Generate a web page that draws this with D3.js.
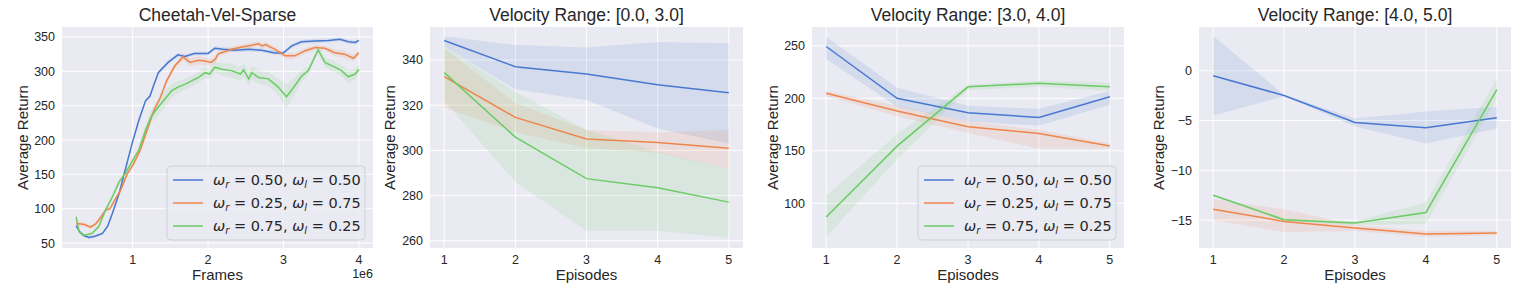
<!DOCTYPE html>
<html>
<head>
<meta charset="utf-8">
<script src="https://cdn.jsdelivr.net/npm/d3@7"></script>
<style>
  body { margin: 0; background: #fff; }
  text { font-family: "Liberation Sans", Arial, sans-serif; fill: #262626; }
  .legend text { font-family: "DejaVu Sans", sans-serif; }
</style>
</head>
<body>
<div id="chart"></div>
<script>
// series names and colours (seaborn muted)
const seriesNames = [["0.50", "0.50"], ["0.25", "0.75"], ["0.75", "0.25"]];
const colors = ["#4878d0", "#ee854a", "#6acc64"];

// panel 1: Cheetah-Vel-Sparse, [frames (1e6), mean, band half width]
const cheetahBlue = [
  [0.25, 75, 2], [0.3, 66, 2], [0.35, 61, 2], [0.42, 58, 2], [0.5, 60, 2], [0.6, 64, 2],
  [0.67, 75, 2], [0.73, 93, 2], [0.82, 122, 3], [0.9, 156, 3], [0.99, 194, 3], [1.08, 228, 3],
  [1.17, 257, 3], [1.23, 264, 3], [1.28, 280, 3], [1.34, 298, 3], [1.47, 313, 3], [1.6, 324, 3],
  [1.69, 321.5, 3], [1.82, 326, 3], [2.0, 326, 3], [2.09, 333.6, 3], [2.2, 332, 3], [2.36, 330.7, 3],
  [2.54, 332, 3], [2.71, 330.7, 3], [2.89, 326.8, 3], [3.0, 327, 3], [3.11, 337, 3], [3.24, 343, 3],
  [3.42, 344, 3], [3.6, 345, 3], [3.75, 346.6, 3], [3.86, 343, 3], [3.95, 342, 3], [4.0, 345, 3]
];
const cheetahOrange = [
  [0.25, 78, 3], [0.29, 78, 3], [0.36, 77, 3], [0.44, 73, 3], [0.51, 78, 3], [0.58, 88, 3],
  [0.64, 98, 3], [0.7, 100, 3], [0.76, 112, 3], [0.84, 127, 3], [0.93, 151, 3], [1.01, 165, 3],
  [1.1, 185, 3], [1.19, 214, 3], [1.28, 243, 4], [1.36, 260, 4], [1.45, 286, 4], [1.56, 308, 4],
  [1.67, 321, 5], [1.76, 313, 6], [1.87, 316, 6], [1.96, 315, 6], [2.04, 313, 5], [2.1, 318, 5],
  [2.13, 325, 4], [2.18, 327, 4], [2.31, 332, 4], [2.45, 335.5, 4], [2.58, 338, 4], [2.67, 340, 4],
  [2.72, 337, 4], [2.76, 339, 4], [2.89, 332, 4], [3.02, 322.5, 5], [3.15, 322.5, 5], [3.29, 330, 4],
  [3.42, 334.5, 4], [3.55, 333.6, 4], [3.68, 327, 5], [3.81, 325, 5], [3.93, 319, 5], [4.0, 327, 5]
];
const cheetahGreen = [
  [0.25, 88, 3], [0.29, 66, 3], [0.36, 61, 3], [0.46, 64, 3], [0.55, 74, 3], [0.64, 98, 4],
  [0.73, 117, 4], [0.82, 139, 4], [0.9, 151, 4], [0.99, 168, 5], [1.08, 185, 6], [1.17, 214, 8],
  [1.25, 235, 10], [1.34, 248, 12], [1.43, 260, 12], [1.52, 272, 10], [1.6, 277, 9], [1.69, 281, 8],
  [1.78, 286, 8], [1.87, 291, 8], [1.96, 298, 8], [2.02, 296, 8], [2.09, 306, 8], [2.18, 303, 9],
  [2.31, 301, 10], [2.43, 296, 10], [2.47, 302, 10], [2.54, 289, 10], [2.58, 298, 10], [2.67, 291, 10],
  [2.8, 289, 10], [2.93, 277, 12], [3.04, 263, 18], [3.15, 279, 12], [3.24, 293, 8], [3.33, 301, 6],
  [3.46, 331, 4], [3.55, 313, 7], [3.68, 306, 8], [3.77, 301, 8], [3.86, 292, 9], [3.95, 296, 8],
  [4.0, 303, 7]
];

// panels 2-4: episodes
const episodes = [1, 2, 3, 4, 5];

const range03Mean = [[348.6, 337, 333.8, 329, 325.5], [332.6, 314.6, 305, 303.5, 300.9], [334.4, 305.9, 287.5, 283.5, 277.1]];
const range03Lo = [[346, 327, 322.3, 309.7, 303], [319, 308, 301, 299, 292], [322, 286, 264.4, 264.4, 261.3]];
const range03Hi = [[350.5, 346.6, 345.5, 348, 347.4], [345, 321, 309, 308, 309], [346, 326, 309, 299.5, 292]];

const range34Mean = [[249.4, 200, 186.3, 181.8, 201.6], [204.8, 188, 173, 166.6, 154.5], [87, 154.5, 211, 214.3, 211]];
const range34Lo = [[237.6, 192, 178, 174, 194], [202, 183, 167, 152, 152], [68, 142, 208, 211, 207]];
const range34Hi = [[258.6, 210, 193, 190, 207], [207, 193, 178, 170, 157], [107, 166, 213, 217, 215]];

const range45Mean = [[-0.5, -2.48, -5.19, -5.72, -4.72], [-13.9, -15.13, -15.8, -16.4, -16.3], [-12.5, -14.96, -15.3, -14.23, -1.9]];
const range45Lo = [[-4.5, -2.55, -5.6, -7.3, -5.8], [-15, -16.2, -16.1, -16.7, -16.5], [-12.6, -15.1, -15.5, -15.4, -2.8]];
const range45Hi = [[3.5, -2.4, -4.8, -4.1, -3.6], [-12.9, -13.9, -15.5, -16.1, -16.1], [-12.4, -14.8, -15.1, -13.2, -0.8]];

const width = 1522, height = 287;
const svg = d3.select("#chart").append("svg")
  .attr("width", width).attr("height", height);

function toRows(pairs) {
  return pairs.map(d => ({ x: d[0], y: d[1], lo: d[1] - d[2], hi: d[1] + d[2] }));
}
function epRows(mean, lo, hi) {
  return episodes.map((e, i) => ({ x: e, y: mean[i], lo: lo[i], hi: hi[i] }));
}

const panels = [
  {
    title: "Cheetah-Vel-Sparse", xlabel: "Frames", left: 62, right: 373, ylabelX: 23,
    xDomain: [0.0625, 4.1875], yDomain: [42.8, 364.5],
    xTicks: [1, 2, 3, 4], yTicks: [50, 100, 150, 200, 250, 300, 350],
    series: [toRows(cheetahBlue), toRows(cheetahOrange), toRows(cheetahGreen)],
    legend: true, offset: "1e6"
  },
  {
    title: "Velocity Range: [0.0, 3.0]", xlabel: "Episodes", left: 430, right: 743, ylabelX: 390,
    xDomain: [0.8, 5.2], yDomain: [256.8, 354.6],
    xTicks: episodes, yTicks: [260, 280, 300, 320, 340],
    series: [0, 1, 2].map(i => epRows(range03Mean[i], range03Lo[i], range03Hi[i])),
    legend: false
  },
  {
    title: "Velocity Range: [3.0, 4.0]", xlabel: "Episodes", left: 812, right: 1124, ylabelX: 773,
    xDomain: [0.8, 5.2], yDomain: [57.4, 268],
    xTicks: episodes, yTicks: [100, 150, 200, 250],
    series: [0, 1, 2].map(i => epRows(range34Mean[i], range34Lo[i], range34Hi[i])),
    legend: true
  },
  {
    title: "Velocity Range: [4.0, 5.0]", xlabel: "Episodes", left: 1199, right: 1511, ylabelX: 1159,
    xDomain: [0.8, 5.2], yDomain: [-17.8, 4.4],
    xTicks: episodes, yTicks: [-15, -10, -5, 0],
    series: [0, 1, 2].map(i => epRows(range45Mean[i], range45Lo[i], range45Hi[i])),
    legend: false
  }
];

const plotTop = 27, plotBottom = 248;

panels.forEach(p => {
  const x = d3.scaleLinear().domain(p.xDomain).range([p.left, p.right]);
  const y = d3.scaleLinear().domain(p.yDomain).range([plotBottom, plotTop]);
  const g = svg.append("g");

  g.append("rect")
    .attr("x", p.left).attr("y", plotTop)
    .attr("width", p.right - p.left).attr("height", plotBottom - plotTop)
    .attr("fill", "#eaeaf2");

  // grid
  g.selectAll(".vgrid").data(p.xTicks).enter().append("line")
    .attr("x1", d => x(d)).attr("x2", d => x(d))
    .attr("y1", plotTop).attr("y2", plotBottom)
    .attr("stroke", "#fff").attr("stroke-width", 1);
  g.selectAll(".hgrid").data(p.yTicks).enter().append("line")
    .attr("x1", p.left).attr("x2", p.right)
    .attr("y1", d => y(d)).attr("y2", d => y(d))
    .attr("stroke", "#fff").attr("stroke-width", 1);

  // tick labels
  g.selectAll(".xt").data(p.xTicks).enter().append("text")
    .attr("x", d => x(d)).attr("y", plotBottom + 16)
    .attr("text-anchor", "middle").attr("font-size", 12.5)
    .text(d => d);
  g.selectAll(".yt").data(p.yTicks).enter().append("text")
    .attr("x", p.left - 7).attr("y", d => y(d) + 4.5)
    .attr("text-anchor", "end").attr("font-size", 12.5)
    .text(d => d < 0 ? "\u2212" + Math.abs(d) : d);

  // bands then lines
  const area = d3.area().x(d => x(d.x)).y0(d => y(d.lo)).y1(d => y(d.hi));
  const line = d3.line().x(d => x(d.x)).y(d => y(d.y));
  p.series.forEach((s, i) => {
    g.append("path").datum(s).attr("d", area)
      .attr("fill", colors[i]).attr("fill-opacity", 0.13);
  });
  p.series.forEach((s, i) => {
    g.append("path").datum(s).attr("d", line)
      .attr("fill", "none").attr("stroke", colors[i]).attr("stroke-width", 1.5);
  });

  // titles and labels
  g.append("text").attr("x", (p.left + p.right) / 2).attr("y", 21)
    .attr("text-anchor", "middle").attr("font-size", 17.5).text(p.title);
  g.append("text").attr("x", (p.left + p.right) / 2).attr("y", 280)
    .attr("text-anchor", "middle").attr("font-size", 15).text(p.xlabel);
  g.append("text")
    .attr("transform", `translate(${p.ylabelX},${(plotTop + plotBottom) / 2}) rotate(-90)`)
    .attr("text-anchor", "middle").attr("dy", "0.35em")
    .attr("font-size", 15).text("Average Return");
  if (p.offset) {
    g.append("text").attr("x", p.right).attr("y", 278)
      .attr("text-anchor", "end").attr("font-size", 12.5).text(p.offset);
  }

  if (p.legend) {
    const lx = p.right - 206, ly = 166;
    const lg = g.append("g").attr("class", "legend");
    lg.append("rect").attr("x", lx).attr("y", ly).attr("width", 198).attr("height", 74)
      .attr("rx", 4).attr("fill", "#eaeaf2").attr("fill-opacity", 0.8)
      .attr("stroke", "#d0d0d8").attr("stroke-width", 1);
    seriesNames.forEach((n, i) => {
      const ry = ly + 14 + i * 23;
      lg.append("line").attr("x1", lx + 6).attr("x2", lx + 36)
        .attr("y1", ry).attr("y2", ry)
        .attr("stroke", colors[i]).attr("stroke-width", 1.5);
      const t = lg.append("text").attr("x", lx + 46).attr("y", ry + 5).attr("font-size", 14.5);
      t.append("tspan").attr("font-style", "italic").text("\u03c9");
      t.append("tspan").attr("font-style", "italic").attr("font-size", 10)
        .attr("dy", 3).text("r");
      t.append("tspan").attr("dy", -3).text(" = " + n[0] + ", ");
      t.append("tspan").attr("font-style", "italic").text("\u03c9");
      t.append("tspan").attr("font-style", "italic").attr("font-size", 10)
        .attr("dy", 3).text("l");
      t.append("tspan").attr("dy", -3).text(" = " + n[1]);
    });
  }
});
</script>
</body>
</html>
